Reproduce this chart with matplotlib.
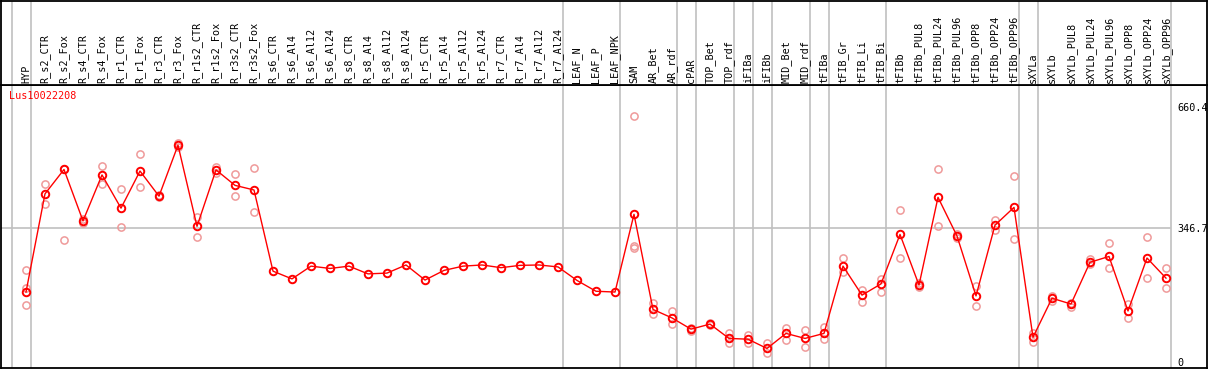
import matplotlib
matplotlib.use("Agg")
import matplotlib.pyplot as plt
import numpy as np

# -----------------------------
# DATA
# -----------------------------

gene = "Lus10022208"

samples = [
    "HYP", "R_s2_CTR", "R_s2_Fox", "R_s4_CTR", "R_s4_Fox", "R_r1_CTR", "R_r1_Fox",
    "R_r3_CTR", "R_r3_Fox", "R_r1s2_CTR", "R_r1s2_Fox", "R_r3s2_CTR", "R_r3s2_Fox",
    "R_s6_CTR", "R_s6_Al4", "R_s6_Al12", "R_s6_Al24", "R_s8_CTR", "R_s8_Al4",
    "R_s8_Al12", "R_s8_Al24", "R_r5_CTR", "R_r5_Al4", "R_r5_Al12", "R_r5_Al24",
    "R_r7_CTR", "R_r7_Al4", "R_r7_Al12", "R_r7_Al24", "LEAF_N", "LEAF_P", "LEAF_NPK",
    "SAM", "AR_Bet", "AR_rdf", "cPAR", "TOP_Bet", "TOP_rdf", "iFIBa", "iFIBb",
    "MID_Bet", "MID_rdf", "tFIBa", "tFIB_Gr", "tFIB_Li", "tFIB_Bi", "tFIBb",
    "tFIBb_PUL8", "tFIBb_PUL24", "tFIBb_PUL96", "tFIBb_OPP8", "tFIBb_OPP24",
    "tFIBb_OPP96", "sXYLa", "sXYLb", "sXYLb_PUL8", "sXYLb_PUL24", "sXYLb_PUL96",
    "sXYLb_OPP8", "sXYLb_OPP24", "sXYLb_OPP96",
]

# mean expression per sample
expression = [
    181, 435, 498, 365, 484, 398, 494, 429, 561, 351, 497, 457, 445,
    235, 215, 248, 242, 248, 228, 230, 251, 212, 237, 248, 251,
    244, 250, 251, 246, 211, 183, 181,
    382, 136, 114, 85, 98, 61, 59, 35, 74, 61, 74,
    248, 173, 202, 330, 199, 426, 326, 171, 354, 400,
    64, 165, 150, 258, 273, 132, 269, 217,
]

# individual replicates (empty where none are drawn)
replicates = [
    [238, 191, 147], [460, 409], [500, 316], [369, 359], [507, 460], [447, 349],
    [537, 452], [426, 431], [566, 555], [376, 323], [505, 488], [486, 429], [501, 387],
    [], [], [], [], [], [], [], [], [], [], [], [], [], [], [], [], [], [], [],
    [637, 300, 294], [152, 123], [131, 98], [88, 80], [100, 96], [76, 48], [70, 48],
    [50, 22], [87, 57], [83, 40], [90, 59],
    [268, 234], [185, 156], [214, 182], [393, 268], [204, 195], [499, 352], [331, 320],
    [197, 145], [367, 342], [482, 318],
    [74, 51], [171, 159], [153, 142], [266, 254], [307, 242], [150, 115], [323, 217],
    [242, 191],
]

# number of samples in each tissue group (separated by grey lines)
group_sizes = [1, 28, 3, 3, 1, 2, 1, 1, 2, 1, 3, 7, 1, 7]

scale_marks = [660.4, 346.7, 0]

# -----------------------------
# LAYOUT
# -----------------------------

W, H = 1209, 370
fig = plt.figure(figsize=(W / 100, H / 100), dpi=100)


def box(left, top, right, bottom):
    return [left / W, 1 - bottom / H, (right - left) / W, (bottom - top) / H]


ax = fig.add_axes(box(1, 85, 1207, 368))
hx = fig.add_axes(box(1, 0.5, 1207, 85), sharex=ax)

step = 19.0        # pixels per sample
x0 = 26.0          # pixel of first sample
ppv = 1 / 2.587    # pixels per unit of expression
ax.set_xlim((1 - x0) / step, (1207 - x0) / step)
ax.set_ylim(-6 / ppv, 277 / ppv)
hx.set_ylim(0, 1)

for a in (ax, hx):
    a.set_xticks([])
    a.set_yticks([])
    for s in a.spines.values():
        s.set_linewidth(1.3)
        s.set_color("black")

grey = "#c0c0c0"
bounds = np.concatenate([[0], np.cumsum(group_sizes)]) - 0.75
for b in bounds:
    ax.axvline(b, color=grey, lw=1.2, zorder=0)
    hx.axvline(b, color=grey, lw=1.2, zorder=0)

ax.axhline(scale_marks[1], xmin=0, xmax=(1170 - 1) / 1206, color=grey, lw=1.2, zorder=0)

# replicates
for i, reps in enumerate(replicates):
    if reps:
        ax.plot([i] * len(reps), reps, "o", mfc="none", mec="#ef9a9a",
                ms=5.2, mew=1.1, zorder=2)

# mean line
xs = np.arange(len(samples))
ax.plot(xs, expression, "-", color="red", lw=1.0, zorder=3)
ax.plot(xs, expression, "o", mfc="none", mec="red", ms=5.4, mew=1.4, zorder=4)

mono = "DejaVu Sans Mono"

# sample names in the header
for i, name in enumerate(samples):
    hx.text(i, 2 / 84.5, name, rotation=90, ha="center", va="bottom",
            fontfamily=mono, fontsize=7.3, color="black")

# gene name
ax.text((9 - 1) / 1206, 1 - (91 - 85) / 283, gene, transform=ax.transAxes,
        ha="left", va="top", fontfamily=mono, fontsize=7.3, color="red")

# scale values on the right
lab_x = (1177 - x0) / step
for v in scale_marks:
    ax.text(lab_x, v + 3.5 / ppv, f"{v:g}" if v == 0 else f"{v}", ha="left", va="top",
            fontfamily=mono, fontsize=7.3, color="black")

fig.savefig("out.png", dpi=100)
